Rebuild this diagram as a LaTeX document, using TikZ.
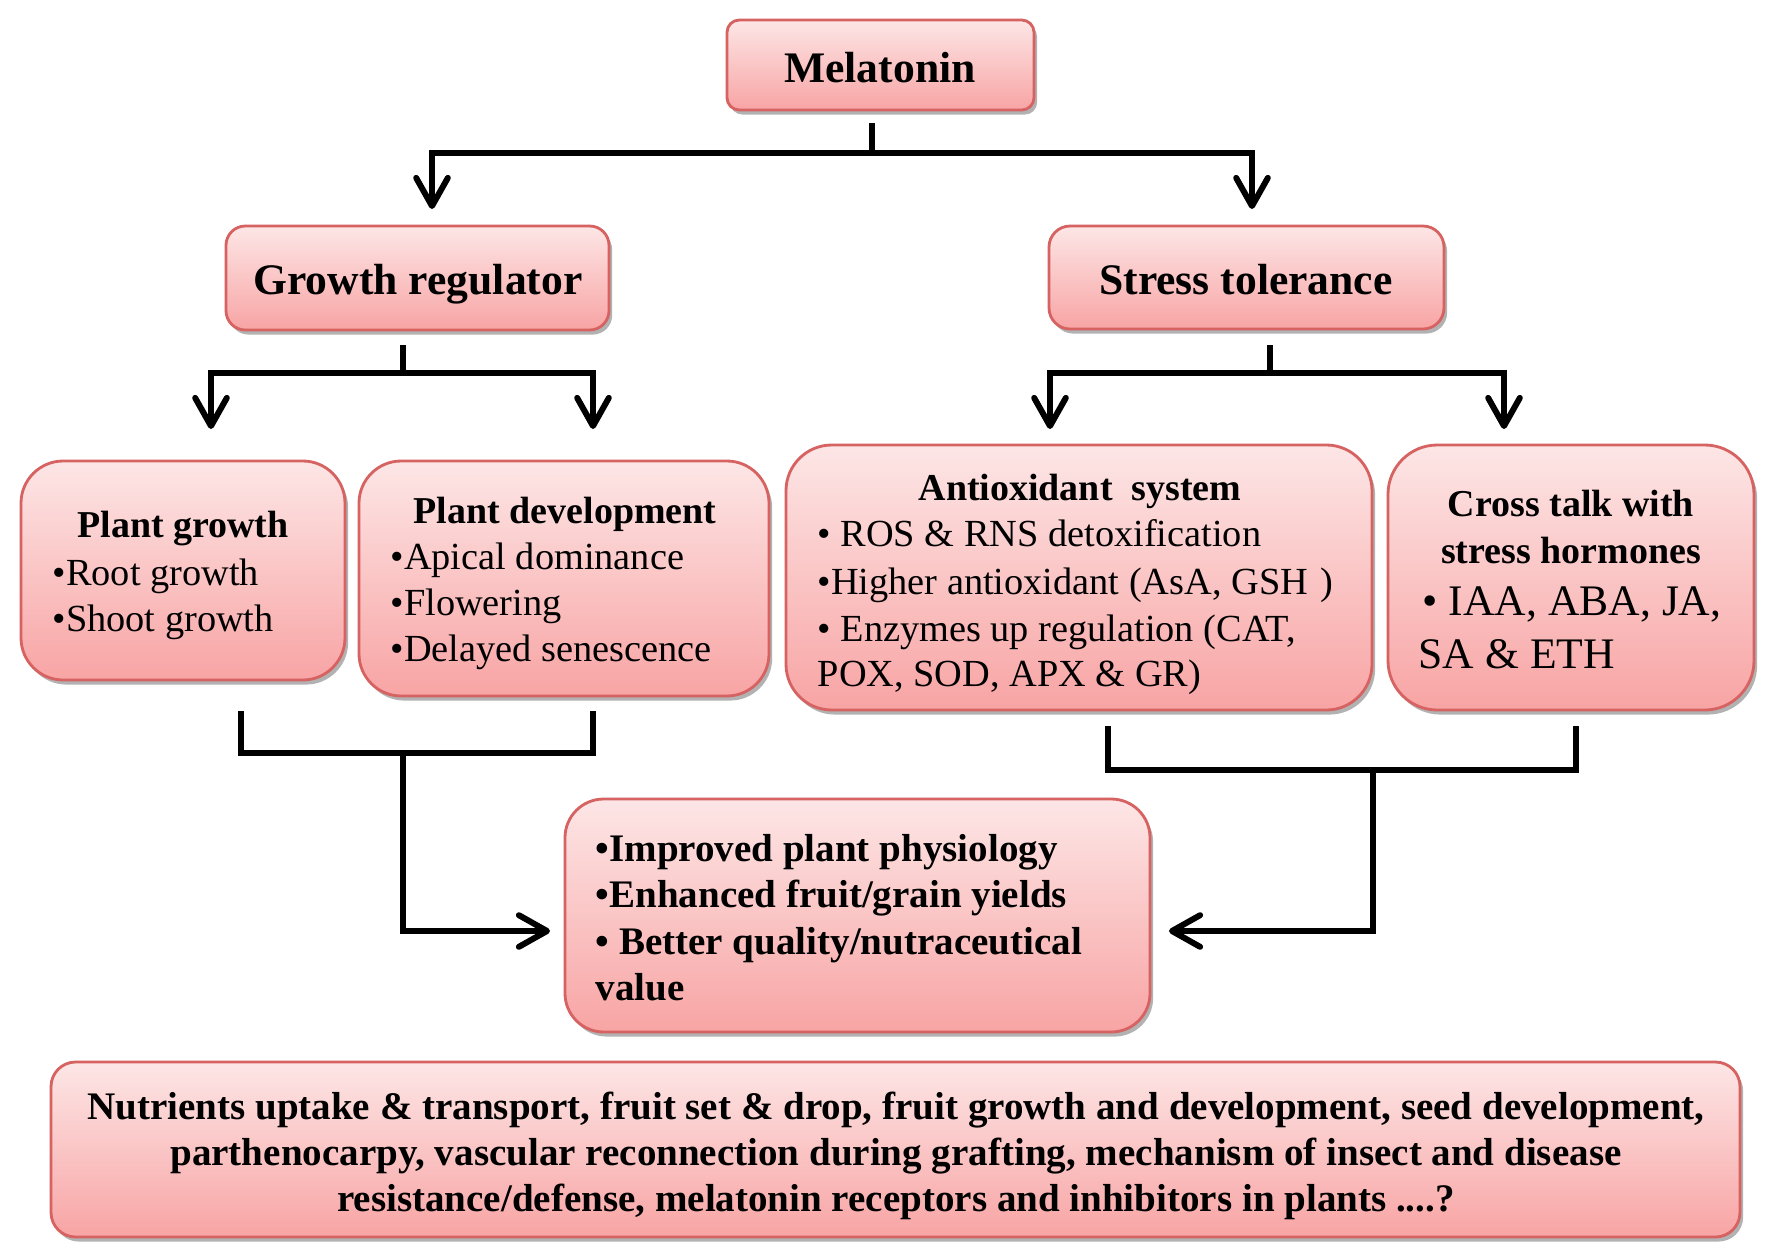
\documentclass[tikz,border=0pt]{standalone}
\usepackage{fontspec}
\setmainfont{Liberation Serif}
\usetikzlibrary{arrows.meta,shadows,fit}
\definecolor{bordr}{RGB}{214,98,98}
\definecolor{ptop}{RGB}{253,230,230}
\definecolor{pbot}{RGB}{248,164,164}
\tikzset{
 box/.style={draw=bordr, line width=0.8pt, top color=ptop, bottom color=pbot, inner sep=0pt,
   drop shadow={shadow xshift=0.9pt, shadow yshift=-1.3pt, opacity=0.3, fill=black}},
 conn/.style={line width=1.7pt, draw=black},
 myb/.tip={Straight Barb[length=8pt,width=9pt,round]},
 hbig/.style={font=\fontsize{12.4}{14}\selectfont\bfseries, inner sep=0pt},
 hsub/.style={font=\fontsize{10.8}{13}\selectfont\bfseries, inner sep=0pt},
 body/.style={font=\fontsize{10.9}{13}\selectfont, inner sep=0pt},
 bodyl/.style={font=\fontsize{12.4}{14}\selectfont, inner sep=0pt},
 bodyb/.style={font=\fontsize{11.1}{13}\selectfont\bfseries, inner sep=0pt},
}
\begin{document}
\begin{tikzpicture}[x=0.01cm, y=-0.01cm]
\useasboundingbox (0,0) rectangle (1772,1254);
\fill[white] (0,0) rectangle (1772,1254);

% boxes
\node[box, rounded corners=3.5pt, fit={(727,20) (1034,110)}] (mel) {};
\node[box, rounded corners=5.5pt, fit={(226,226) (609,330)}] (gr) {};
\node[box, rounded corners=6pt, fit={(1049,226) (1444,329)}] (st) {};
\node[box, rounded corners=12pt, fit={(21,461) (345,680)}] (pg) {};
\node[box, rounded corners=12pt, fit={(359,461) (769,696)}] (pd) {};
\node[box, rounded corners=13pt, fit={(786,445) (1372,710)}] (ao) {};
\node[box, rounded corners=14pt, fit={(1388,445) (1754,710)}] (ct) {};
\node[box, rounded corners=11pt, fit={(565,799) (1150,1032)}] (res) {};
\node[box, rounded corners=7pt, fit={(51,1062) (1740,1237)}] (fut) {};

% texts
\node[hbig, anchor=base] (tmel) at (880,82) {Melatonin};
\node[hbig, anchor=base] (tgr) at (418,294) {Growth regulator};
\node[hbig, anchor=base] (tst) at (1246,294) {Stress tolerance};

\node[hsub, anchor=base] (tpg) at (183,537) {Plant growth};
\node[body, anchor=base west] (tpg1) at (52,585) {•Root growth};
\node[body, anchor=base west] (tpg2) at (52,631) {•Shoot growth};

\node[hsub, anchor=base] (tpd) at (565,523) {Plant development};
\node[body, anchor=base west] (tpd1) at (390,569) {•Apical dominance};
\node[body, anchor=base west] (tpd2) at (390,615) {•Flowering};
\node[body, anchor=base west] (tpd3) at (390,661) {•Delayed senescence};

\node[hsub, anchor=base] (tao) at (1080,500) {Antioxidant\ \ system};
\node[body, anchor=base west] (tao1) at (817,546) {• ROS \& RNS detoxification};
\node[body, anchor=base west] (tao2) at (817,594) {•Higher antioxidant (AsA, GSH\,\,)};
\node[body, anchor=base west] (tao3) at (817,641) {• Enzymes up regulation (CAT,};
\node[body, anchor=base west] (tao4) at (817,686) {POX, SOD, APX \& GR)};

\node[hsub, anchor=base] (tct1) at (1571,516) {Cross talk with};
\node[hsub, anchor=base] (tct2) at (1571,563) {stress hormones};
\node[bodyl, anchor=base west] (tct3) at (1422,615) {• IAA, ABA, JA,};
\node[bodyl, anchor=base west] (tct4) at (1418,668) {SA \& ETH};

\node[bodyb, anchor=base west] (tr1) at (595,861) {•Improved plant physiology};
\node[bodyb, anchor=base west] (tr2) at (595,907) {•Enhanced fruit/grain yields};
\node[bodyb, anchor=base west] (tr3) at (595,954) {• Better quality/nutraceutical};
\node[bodyb, anchor=base west] (tr4) at (595,1000) {value};

\node[bodyb, anchor=base] (tf1) at (896,1119) {Nutrients uptake \& transport, fruit set \& drop, fruit growth and development, seed development,};
\node[bodyb, anchor=base] (tf2) at (896,1165) {parthenocarpy, vascular reconnection during grafting, mechanism of insect and disease};
\node[bodyb, anchor=base] (tf3) at (896,1211) {resistance/defense, melatonin receptors and inhibitors in plants ....?};

% connector coordinates
\coordinate (mtop) at (872,123);
\coordinate (mj) at (872,153);
\coordinate (mtl) at (432,209);
\coordinate (mtr) at (1252,209);
\coordinate (gtop) at (403,345);
\coordinate (gj) at (403,373);
\coordinate (gtl) at (211,429);
\coordinate (gtr) at (593,429);
\coordinate (stop) at (1270,345);
\coordinate (sj) at (1270,373);
\coordinate (stl) at (1050,429);
\coordinate (str) at (1504,429);
\coordinate (bl1) at (241,711);
\coordinate (bl2) at (593,711);
\coordinate (blj) at (403,753);
\coordinate (blt) at (550,931);
\coordinate (br1) at (1108,726);
\coordinate (br2) at (1576,726);
\coordinate (brj) at (1373,770);
\coordinate (brt) at (1169,931);

% connectors
\draw[conn] (mtop) -- (mj);
\draw[conn, myb-myb] (mtl) |- (mj) -| (mtr);
\draw[conn] (gtop) -- (gj);
\draw[conn, myb-myb] (gtl) |- (gj) -| (gtr);
\draw[conn] (stop) -- (sj);
\draw[conn, myb-myb] (stl) |- (sj) -| (str);
\draw[conn] (bl1) |- (blj) -| (bl2);
\draw[conn, -myb] (blj) |- (blt);
\draw[conn] (br1) |- (brj) -| (br2);
\draw[conn, -myb] (brj) |- (brt);
\end{tikzpicture}
\end{document}
